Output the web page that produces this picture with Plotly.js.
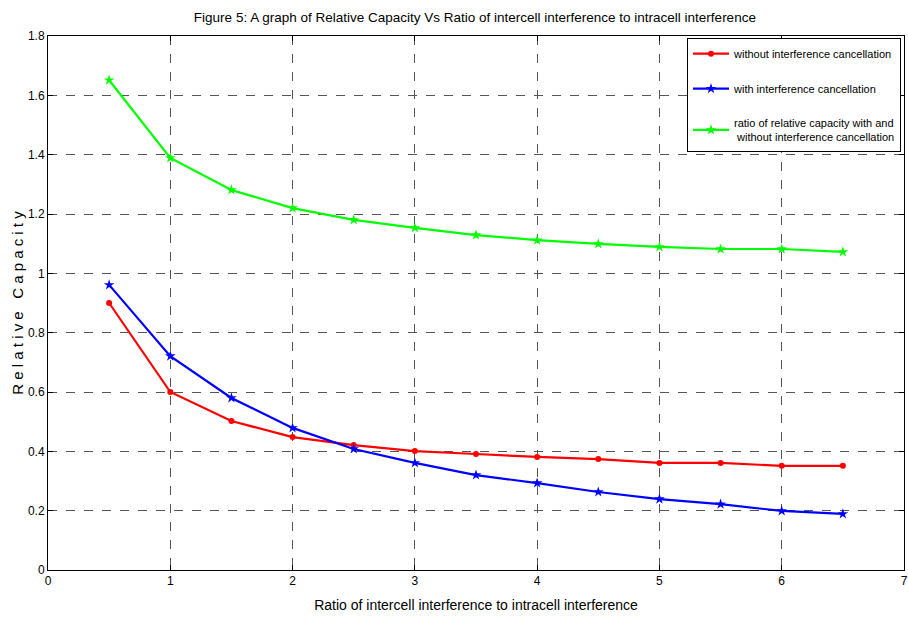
<!DOCTYPE html>
<html><head><meta charset="utf-8">
<script src="https://cdn.plot.ly/plotly-3.0.1.min.js"></script>
<style>body{margin:0;background:#fff}#plot{width:908px;height:626px}</style>
</head><body><div id="plot"></div>
<script>
const xVals = [0.5,1,1.5,2,2.5,3,3.5,4,4.5,5,5.5,6,6.5];
const withoutIC = [0.90,0.60,0.502,0.448,0.421,0.401,0.391,0.381,0.374,0.361,0.361,0.351,0.351];
const withIC = [0.961,0.721,0.580,0.479,0.408,0.361,0.320,0.293,0.263,0.239,0.222,0.199,0.189];
const ratioIC = [1.651,1.389,1.281,1.220,1.180,1.153,1.129,1.112,1.099,1.089,1.082,1.082,1.072];
const xTicks = [0,1,2,3,4,5,6,7];
const yTicks = [0,0.2,0.4,0.6,0.8,1,1.2,1.4,1.6,1.8];
const yTickText = ['0','0.2','0.4','0.6','0.8','1','1.2','1.4','1.6','1.8'];

const F = 'Liberation Sans Narrow, Arial Narrow, Liberation Sans, sans-serif';
function tr(y, name, color, sym, sz, g){
  return {x:xVals, y:y, name:name, type:'scatter', mode:'lines+markers', legendgroup:g,
    line:{color:color, width:2.2}, marker:{color:color, symbol:sym, size:sz}};
}
const data = [
  tr(withoutIC,'without interference cancellation','#ff0000','circle',6,'a'),
  tr(withIC,'with interference cancellation','#0000ff','star',8,'b'),
  tr(ratioIC,'ratio of relative capacity with and<br> without interference cancellation','#00ff00','star',8,'c')
];
const axisCommon = {showline:true, linecolor:'#000', linewidth:1, mirror:'ticks',
  ticks:'inside', ticklen:5, tickcolor:'#000', showgrid:true, gridcolor:'#555',
  griddash:'dash', gridwidth:1, zeroline:false, tickfont:{family:F, size:12, color:'#000'}};
const layout = {
  width:908, height:626, paper_bgcolor:'#fff', plot_bgcolor:'#fff',
  margin:{l:48, r:4, t:36, b:56},
  font:{family:F, color:'#000'},
  title:{text:'Figure 5: A graph of Relative Capacity Vs Ratio of intercell interference to intracell interference',
    font:{family:F, size:13.5, color:'#000'}, x:0.523, xanchor:'center', y:0.972, yanchor:'middle'},
  xaxis:Object.assign({}, axisCommon, {range:[0,7], tickvals:xTicks, ticktext:xTicks.map(String),
    title:{text:'Ratio of intercell interference to intracell interference', font:{family:F, size:14, color:'#000'}, standoff:12}}),
  yaxis:Object.assign({}, axisCommon, {range:[0,1.8], tickvals:yTicks, ticktext:yTickText,
    title:{text:'R e l a t i v e   C a p a c i t y', font:{family:F, size:15, color:'#000'}, standoff:0}}),
  legend:{x:0.9965, xanchor:'right', y:0.996, yanchor:'top', bgcolor:'#fff', bordercolor:'#000', borderwidth:1,
    font:{family:F, size:11, color:'#000'}, itemwidth:36, tracegroupgap:16},
  showlegend:true
};
Plotly.newPlot('plot', data, layout, {displayModeBar:false});
</script></body></html>
